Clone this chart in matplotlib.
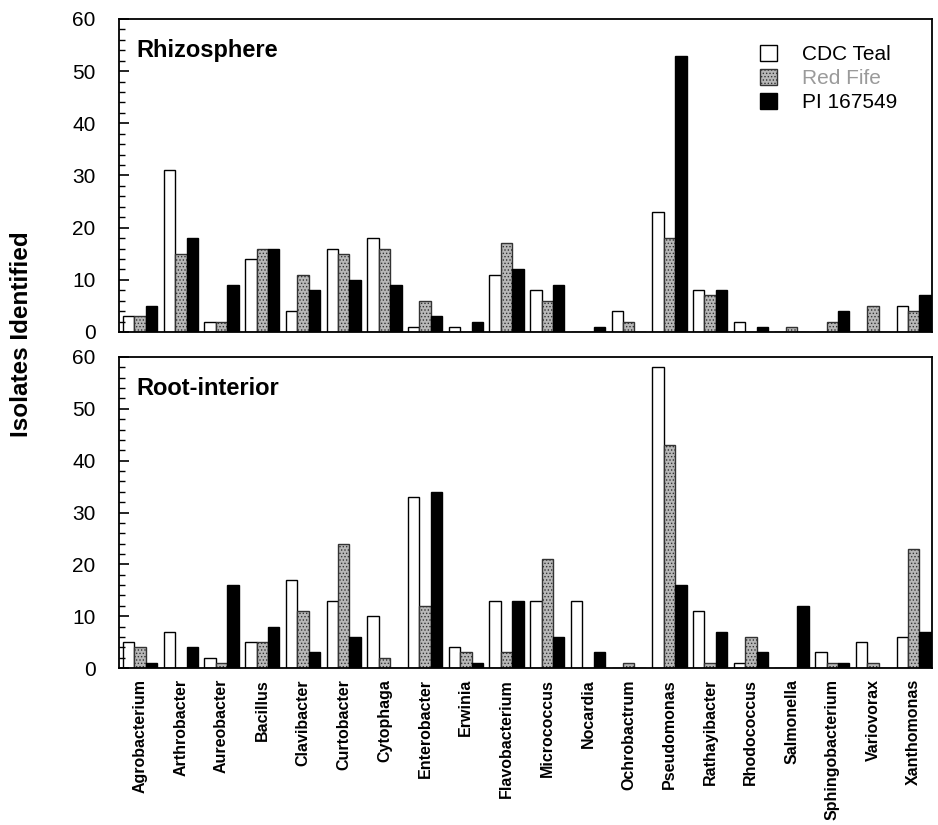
import matplotlib
matplotlib.use("Agg")
import matplotlib.pyplot as plt
import numpy as np

plt.rcParams['font.family'] = ['Liberation Sans', 'DejaVu Sans']
plt.rcParams['hatch.linewidth'] = 0.6

genera = ["Agrobacterium", "Arthrobacter", "Aureobacter", "Bacillus", "Clavibacter",
          "Curtobacter", "Cytophaga", "Enterobacter", "Erwinia", "Flavobacterium",
          "Micrococcus", "Nocardia", "Ochrobactrum", "Pseudomonas", "Rathayibacter",
          "Rhodococcus", "Salmonella", "Sphingobacterium", "Variovorax", "Xanthomonas"]
cultivars = ["CDC Teal", "Red Fife", "PI 167549"]

# rhizosphere counts
rhizo_teal = [3, 31, 2, 14, 4, 16, 18, 1, 1, 11, 8, 0, 4, 23, 8, 2, 0, 0, 0, 5]
rhizo_fife = [3, 15, 2, 16, 11, 15, 16, 6, 0, 17, 6, 0, 2, 18, 7, 0, 1, 2, 5, 4]
rhizo_pi = [5, 18, 9, 16, 8, 10, 9, 3, 2, 12, 9, 1, 0, 53, 8, 1, 0, 4, 0, 7]

# root-interior counts
root_teal = [5, 7, 2, 5, 17, 13, 10, 33, 4, 13, 13, 13, 0, 58, 11, 1, 0, 3, 5, 6]
root_fife = [4, 0, 1, 5, 11, 24, 2, 12, 3, 3, 21, 0, 1, 43, 1, 6, 0, 1, 1, 23]
root_pi = [1, 4, 16, 8, 3, 6, 0, 34, 1, 13, 6, 3, 0, 16, 7, 3, 12, 1, 0, 7]

styles = [dict(facecolor="white", edgecolor="black"),
          dict(facecolor="#b8b8b8", edgecolor="#333333", hatch="....."),
          dict(facecolor="black", edgecolor="black")]

fig = plt.figure(figsize=(9.38, 8.25), dpi=100)
ax1 = fig.add_axes([119/938, 1-332/825, (932-119)/938, (332-19)/825])
ax2 = fig.add_axes([119/938, 1-668/825, (932-119)/938, (668-357)/825])

x = np.arange(len(genera))
w = 0.28

for ax, data, title in [(ax1, [rhizo_teal, rhizo_fife, rhizo_pi], "Rhizosphere"),
                        (ax2, [root_teal, root_fife, root_pi], "Root-interior")]:
    for k, vals in enumerate(data):
        ax.bar(x + (k-1)*w, vals, width=w, linewidth=1.0, label=cultivars[k], **styles[k])
    ax.set_xlim(-0.52, 19.45)
    ax.set_ylim(0, 60)
    ax.set_yticks(np.arange(0, 61, 10))
    ax.set_yticks(np.arange(0, 61, 2), minor=True)
    ax.tick_params(axis='y', which='major', direction='in', length=7, width=1.2,
                   labelsize=15, pad=17)
    ax.tick_params(axis='y', which='minor', direction='in', length=4, width=1.0)
    ax.tick_params(axis='x', length=0)
    for s in ax.spines.values():
        s.set_linewidth(1.3)
    ax.text(0.021, 0.935, title, transform=ax.transAxes, fontsize=17,
            fontweight='bold', va='top', ha='left')

ax1.set_xticks(x)
ax1.set_xticklabels([])
ax2.set_xticks(x)
ax2.set_xticklabels(genera, rotation=90, fontsize=11.5, fontweight='bold')
ax2.tick_params(axis='x', pad=8)

leg = ax1.legend(loc='upper left', bbox_to_anchor=(0.788, 0.918), frameon=False,
                 fontsize=15, handlelength=0.85, handleheight=0.85,
                 handletextpad=1.2, labelspacing=0.22, borderpad=0, borderaxespad=0)
leg.get_texts()[1].set_color("#9a9a9a")

fig.text(22/938, 1-334/825, "Isolates Identified", rotation=90, fontsize=17.5,
         fontweight='bold', ha='center', va='center')

fig.savefig("out.png", dpi=100)
